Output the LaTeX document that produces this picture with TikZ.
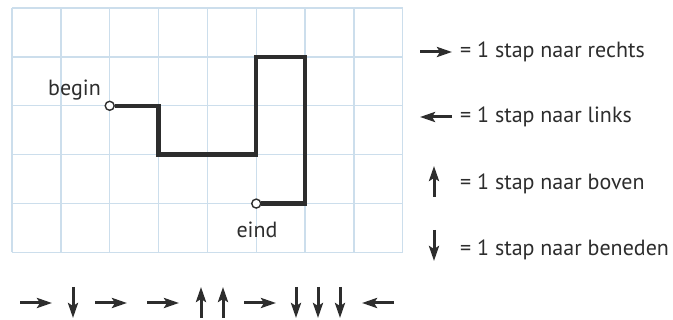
\documentclass[tikz,border=0pt]{standalone}
\usepackage{fontspec}
\setmainfont{PT Sans}
\usetikzlibrary{arrows.meta,positioning}
\definecolor{rooster}{RGB}{204,222,236}
\definecolor{lijn}{RGB}{45,45,45}

\begin{document}
\begin{tikzpicture}[x=1pt, y=1pt, every node/.style={font=\fontsize{22}{24}\selectfont, text=lijn}]
    % stijlen
    \tikzstyle{raster} = [draw=rooster, line width=1.3pt]
    \tikzstyle{route} = [draw=lijn, line width=4.4pt, line join=miter]
    \tikzstyle{punt} = [circle, draw=lijn, fill=white, line width=1.4pt, inner sep=0pt, minimum size=9pt]
    \tikzstyle{stap} = [draw=lijn, line width=3pt, -{Stealth[length=15pt, width=10pt, inset=3pt]}]
    \tikzstyle{uitleg} = [anchor=west, inner sep=0pt]

    \useasboundingbox (0,0) rectangle (673,320);

    % rooster
    \foreach \i in {0,...,8} \draw[raster] (12+48.85*\i,67.5) -- (12+48.85*\i,312);
    \foreach \j in {0,...,5} \draw[raster] (12,67.5+48.9*\j) -- (402.8,67.5+48.9*\j);

    % route
    \node[punt] (begin) at (109.7,214.2) {};
    \node[punt] (eind) at (256.25,116.4) {};
    \draw[route] (begin.east) -- (158.55,214.2) -- (158.55,165.3) -- (256.25,165.3)
        -- (256.25,263.1) -- (305.1,263.1) -- (305.1,116.4) -- (eind.east);
    \node[anchor=east, inner sep=0pt] (beginlabel) at (101,230) {begin};
    \node[inner sep=0pt] (eindlabel) at (257,90) {eind};

    % legenda
    \draw[stap] (420,268) -- ++(32,0);
    \draw[stap] (452,203) -- ++(-32,0);
    \draw[stap] (434,123) -- ++(0,31);
    \draw[stap] (434,90) -- ++(0,-31);
    \node[uitleg] (rechts) at (460,268) {= 1 stap naar rechts};
    \node[uitleg] (links) at (460,203) {= 1 stap naar links};
    \node[uitleg] (boven) at (460,136) {= 1 stap naar boven};
    \node[uitleg] (beneden) at (460,70) {= 1 stap naar beneden};

    % opdracht onderaan
    \foreach \x in {20,95,147,244} \draw[stap] (\x,17) -- ++(32,0);
    \draw[stap] (394,17) -- ++(-32,0);
    \foreach \x in {73,296,318,340} \draw[stap] (\x,33) -- ++(0,-31);
    \foreach \x in {201,223} \draw[stap] (\x,2) -- ++(0,31);
\end{tikzpicture}
\end{document}
